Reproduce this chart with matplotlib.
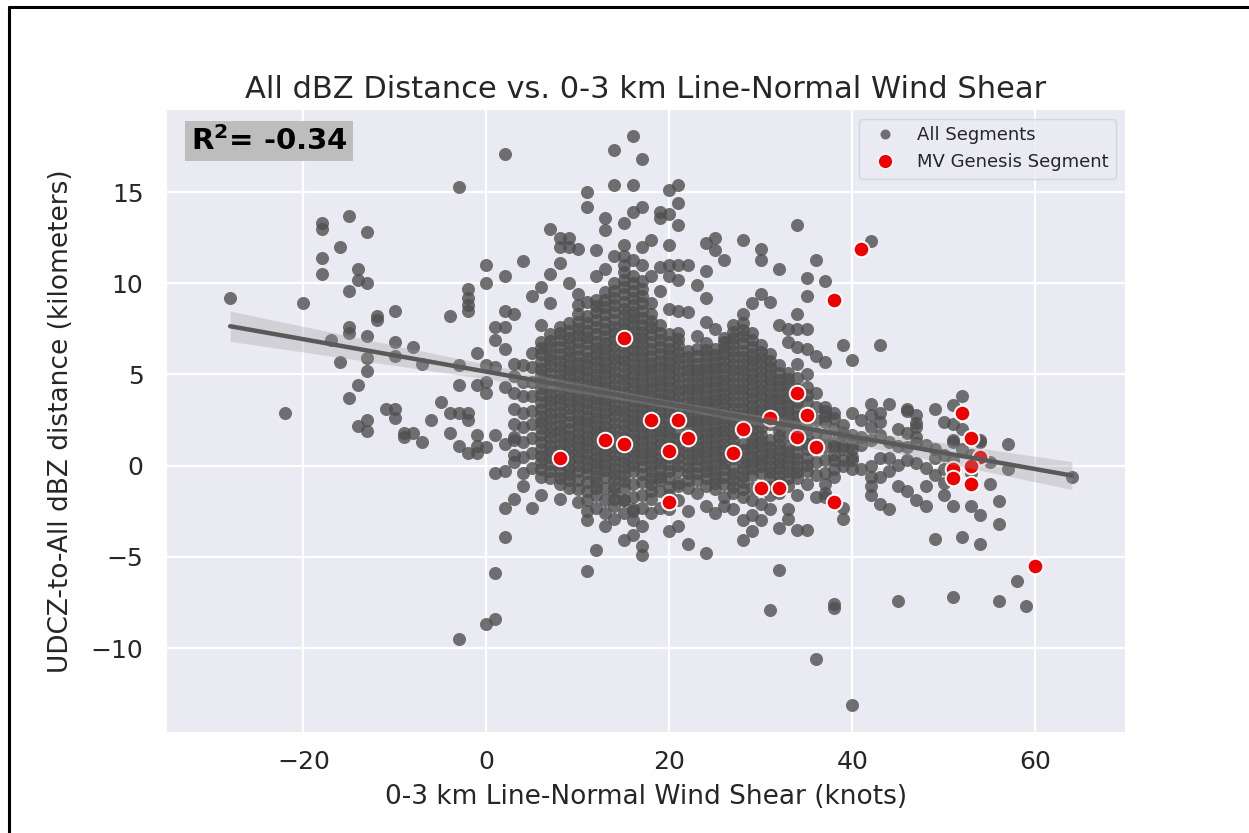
import numpy as np
import matplotlib
matplotlib.use("Agg")
import matplotlib.pyplot as plt
import seaborn as sns
from matplotlib.lines import Line2D

# ---------------- data ----------------
left_pts = [(-28, 9.2), (-22, 2.9), (-20, 8.9), (-18, 13.3), (-18, 13.0), (-18, 11.4), (-18, 10.5),
            (-17, 6.9), (-16, 12.0), (-16, 5.7), (-15, 13.7), (-15, 9.6), (-15, 7.6), (-15, 7.3),
            (-15, 3.7), (-14, 10.8), (-14, 10.2), (-14, 4.4), (-14, 2.2), (-13, 12.8), (-13, 10.0),
            (-13, 7.1), (-13, 5.9), (-13, 5.2), (-13, 2.5), (-13, 1.9), (-12, 8.2), (-12, 8.0),
            (-11, 3.1), (-10, 8.5), (-10, 6.8), (-10, 6.0), (-10, 3.1), (-10, 2.6), (-9, 1.8),
            (-9, 1.6), (-8, 6.5), (-8, 1.8), (-7, 5.6), (-7, 1.3), (-6, 2.5), (-5, 3.5), (-4, 8.2),
            (-4, 1.8), (-4, 2.9), (-3, 15.3), (-3, 5.5), (-3, 4.4), (-3, 2.9), (-3, 1.1), (-3, -9.5),
            (-2, 9.7), (-2, 9.2), (-2, 8.8), (-2, 8.5), (-2, 2.9), (-2, 2.5), (-2, 0.7), (-1, 6.2),
            (-1, 4.4), (-1, 1.7), (-1, 1.1), (-1, 0.7), (0, 11.0), (0, 10.0), (0, 5.5), (0, 4.6),
            (0, 4.0), (0, 1.0), (0, -8.7), (1, -8.4), (1, 7.6), (1, 6.9), (1, 5.4), (1, 1.7),
            (1, -0.4), (1, -5.9), (2, 17.1), (2, 10.4), (2, 8.5), (2, 7.6), (2, 6.4), (2, 4.3),
            (2, 1.2), (2, -0.3), (2, -2.3), (2, -3.9), (3, 8.3), (3, 5.6), (3, 1.6), (3, 0.2),
            (3, -1.8)]

upper_pts = [(4, 11.2), (5, 9.3), (6, 9.8), (7, 8.9), (6, 7.7), (7, 10.5), (8, 11.1), (7, 13.0),
             (8, 12.5), (9, 12.5), (8, 12.0), (9, 12.0), (10, 11.9), (11, 15.0), (11, 14.2),
             (12, 11.8), (13, 13.6), (13, 12.9), (14, 17.3), (14, 15.4), (14, 11.5), (15, 13.3),
             (15, 12.1), (16, 18.1), (16, 15.4), (16, 13.9), (16, 11.3), (17, 16.8), (17, 14.2),
             (17, 12.0), (18, 12.4), (18, 8.9), (19, 13.9), (19, 13.6), (19, 10.9), (19, 9.6),
             (20, 15.1), (20, 13.8), (20, 12.1), (20, 11.0), (20, 10.4), (20, 8.6), (21, 15.4),
             (21, 14.4), (21, 13.2), (21, 11.0), (21, 10.2), (21, 8.5), (22, 11.0), (22, 8.4),
             (23, 9.9), (23, 7.1), (24, 12.2), (24, 10.7), (24, 9.2), (24, 7.9), (25, 12.5),
             (25, 11.8), (25, 7.5), (26, 11.3), (26, 7.0), (28, 12.4), (28, 8.3), (29, 8.9),
             (30, 11.9), (30, 11.3), (30, 9.4), (31, 9.0), (32, 10.8), (32, 7.7), (33, 7.5),
             (33, 6.8), (34, 13.2), (34, 8.3), (34, 7.5), (34, 6.5), (35, 10.3), (35, 9.3),
             (35, 7.5), (35, 6.4), (36, 11.3), (36, 6.0), (37, 10.1), (37, 5.7), (39, 6.6),
             (40, 5.8), (42, 12.3), (43, 6.6), (9, 10.0), (10, 9.4), (12, 10.4), (13, 10.8),
             (15, 11.5), (18, 10.4), (17, 11.0), (10, 8.8), (11, 9.0)]

lower_pts = [(5, -2.3), (4, -1.1), (9, -1.2), (11, -1.9), (11, -2.5), (11, -3.0), (12, -2.3),
             (13, -3.3), (12, -4.6), (11, -5.8), (15, -1.9), (15, -4.1), (16, -2.5), (17, -1.6),
             (17, -2.3), (17, -3.3), (17, -4.4), (17, -4.9), (19, -0.6), (21, -0.95), (19, -2.3),
             (22, -2.5), (23, -1.5), (21, -3.3), (20, -3.6), (22, -4.3), (24, -4.8), (26, -1.7),
             (26, -2.2), (28, -3.0), (29, -3.6), (28, -4.1), (30, -3.0), (31, -2.4), (33, -2.4),
             (33, -2.9), (32, -3.4), (34, -3.5), (35, -3.5), (32, -1.5), (35, -1.0), (37, -1.0),
             (37, -1.7), (39, -2.3), (39, -2.9), (31, -7.9), (32, -5.7), (36, -10.6), (40, -13.1),
             (38, -7.6), (38, -7.8), (14, -2.9), (18, -2.6), (16, -3.8), (13, -2.6), (10, -2.0),
             (8, -1.8), (6, -1.6), (25, -2.6), (27, -2.4), (29, -2.7), (24, -2.2), (20, -2.4),
             (36, -1.7), (34, -1.6)]

right_pts = [(38, 2.9), (37, 3.2), (37, 2.7), (39, 2.25), (39, 1.7), (40, 2.9), (40, 1.7), (41, 2.5),
             (41, 1.6), (42, 3.4), (42, 2.8), (42, 2.1), (42, 1.4), (43, 2.9), (43, 2.4), (43, 1.7),
             (44, 3.4), (44, 1.3), (45, 2.0), (45, 1.1), (46, 3.0), (46, 1.8), (46, 1.0), (46, 3.1),
             (47, 2.8), (47, 2.35), (47, 2.1), (47, 1.6), (47, 1.25), (48, 1.15), (49, 3.1),
             (49, 0.9), (50, 2.4), (51, 3.35), (51, 2.3), (51, 1.4), (52, 3.8), (52, 2.0), (54, 1.4),
             (57, 1.2), (64, -0.6), (38, 1.06), (39, 0.9), (40, 0.9), (41, 1.15), (38, 0.33),
             (39, 0.0), (40, 0.33), (40, -0.2), (41, -0.2), (42, 0.0), (43, 0.4), (44, 0.4),
             (45, 0.06), (46, 0.33), (47, 0.15), (48, -0.13), (49, 0.4), (50, -0.2), (38, -0.6),
             (37, -1.5), (42, -0.6), (42, -1.1), (42, -1.6), (43, -0.6), (43, -2.1), (44, -2.4),
             (46, -1.4), (47, -1.9), (48, -2.2), (48, -1.1), (50, -0.95), (50, -1.6), (51, -2.2),
             (53, -2.2), (54, -2.7), (56, -1.95), (56, -3.2), (49, -4.0), (52, -3.9), (54, -4.3),
             (58, -6.3), (56, -7.4), (59, -7.7), (51, -7.2), (45, -7.4), (51, 1.3), (54, 1.3),
             (53, 0.6), (55, 0.2), (52, 0.9), (50, 0.6), (49, -0.5), (51, 0.3), (57, -0.2),
             (45, -1.1), (44, -0.3), (53, -0.4), (55, -1.0)]

# dense core: lists of read y-values per integer shear column
core_cols = [3, 4, 5, 6, 7, 8, 9, 10, 11, 12, 13, 14, 15, 16, 17, 18, 19, 20, 21, 22,
             23, 24, 25, 26, 27, 28, 29, 30, 31, 32, 33, 34, 35, 36, 37, 38, 39, 40]
core_vals = [
    [0.6, 1.4, 2.3, 3.1, 4.0, 4.9],
    [-0.4, 0.5, 1.3, 2.1, 2.9, 3.8, 4.6, 5.5],
    [-0.1, 0.7, 1.5, 2.3, 3.0, 3.8, 4.6, 5.4, 6.2],
    [-0.6, 0.2, 0.9, 1.7, 2.4, 3.1, 3.9, 4.6, 5.3, 6.1, 6.8],
    [-0.7, 0.1, 0.8, 1.5, 2.2, 2.9, 3.6, 4.3, 5.1, 5.8, 6.5, 7.2],
    [-1.0, -0.3, 0.5, 1.2, 1.9, 2.6, 3.3, 4.0, 4.7, 5.4, 6.1, 6.9, 7.6],
    [-0.8, -0.1, 0.6, 1.3, 2.0, 2.8, 3.5, 4.2, 4.9, 5.6, 6.3, 7.0, 7.8],
    [-1.3, -0.3, 0.4, 1.1, 1.8, 2.5, 3.2, 3.9, 4.6, 5.3, 6.0, 6.8, 7.5, 8.3],
    [-1.4, -0.4, 0.3, 1.0, 1.7, 2.4, 3.1, 3.8, 4.5, 5.2, 5.9, 6.7, 7.4, 8.2],
    [-1.6, -0.9, -0.2, 0.5, 1.2, 1.9, 2.6, 3.3, 4.0, 4.7, 5.4, 6.1, 6.8, 7.6, 8.4, 9.1],
    [-1.9, -0.6, 0.1, 0.8, 1.5, 2.2, 2.9, 3.6, 4.3, 5.0, 5.7, 6.4, 7.1, 7.9, 8.7, 9.5],
    [-2.2, -1.5, -0.8, -0.1, 0.6, 1.3, 2.0, 2.7, 3.4, 4.1, 4.8, 5.5, 6.2, 6.9, 7.6, 8.4, 9.2, 10.0],
    [-2.6, -1.2, -0.5, 0.2, 0.9, 1.6, 2.3, 3.0, 3.7, 4.4, 5.1, 5.8, 6.5, 7.2, 7.9, 8.6, 9.4, 10.2, 11.0],
    [-3.0, -1.7, -0.3, 0.4, 1.1, 1.8, 2.5, 3.2, 3.9, 4.6, 5.3, 6.0, 6.7, 7.4, 8.1, 8.8, 9.6, 10.4],
    [-0.9, 0.0, 0.7, 1.4, 2.1, 2.8, 3.5, 4.2, 4.9, 5.6, 6.3, 7.0, 7.7, 8.5, 9.3, 10.1],
    [-1.8, -1.0, -0.3, 0.4, 1.1, 1.8, 2.5, 3.2, 3.9, 4.6, 5.3, 6.0, 6.8, 7.6, 8.3],
    [-1.4, -0.2, 0.5, 1.2, 1.9, 2.6, 3.3, 4.0, 4.7, 5.4, 6.1, 6.9, 7.7],
    [-1.6, -0.7, 0.1, 1.5, 2.2, 2.9, 3.6, 4.3, 5.0, 5.7, 6.4, 7.2],
    [-1.9, -0.3, 0.4, 1.1, 1.8, 3.1, 3.8, 4.5, 5.2, 5.9, 6.6, 7.3],
    [-1.2, -0.4, 0.3, 1.0, 2.1, 2.8, 3.5, 4.2, 4.9, 5.6, 6.3],
    [-0.8, 0.0, 0.7, 1.4, 2.1, 2.8, 3.5, 4.2, 4.9, 5.6, 6.4],
    [-1.1, -0.3, 0.4, 1.1, 1.8, 2.5, 3.2, 3.9, 4.6, 5.3, 6.0, 6.7],
    [-1.3, -0.6, 0.1, 0.8, 1.5, 2.2, 2.9, 3.6, 4.3, 5.0, 5.7, 6.4],
    [-1.0, -0.2, 0.5, 1.2, 1.9, 2.6, 3.3, 4.0, 4.7, 5.4, 6.1, 6.8],
    [-1.5, -0.8, -0.1, 1.4, 2.1, 2.8, 3.5, 4.2, 4.9, 5.6, 6.3, 7.0, 7.7],
    [-1.7, -0.9, -0.2, 0.5, 1.2, 2.8, 3.5, 4.2, 4.9, 5.6, 6.3, 7.1, 7.8],
    [-1.9, -0.5, 0.2, 0.9, 1.6, 2.3, 3.0, 3.7, 4.4, 5.1, 5.8, 6.5, 7.3],
    [-2.1, -0.4, 0.3, 1.0, 1.7, 2.4, 3.1, 3.8, 4.5, 5.2, 5.9, 6.6],
    [-1.6, -0.7, 0.0, 0.7, 1.4, 3.3, 4.0, 4.7, 5.4, 6.1],
    [-0.9, -0.2, 0.5, 1.2, 1.9, 2.6, 3.3, 4.0, 4.7, 5.5],
    [-1.1, -0.3, 0.4, 1.1, 2.3, 3.0, 3.7, 4.4, 5.1],
    [-0.7, 0.0, 0.7, 2.4, 3.1, 4.8, 5.6],
    [-0.3, 0.4, 1.6, 2.0, 3.5, 4.3, 5.0],
    [-0.5, 0.2, 1.8, 2.5, 3.2, 4.0],
    [-0.4, 0.3, 1.0, 1.7, 2.4, 3.0],
    [-0.2, 0.6, 1.3, 2.0, 2.6],
    [0.3, 1.1, 1.8],
    [0.5, 1.2],
]

# second pass of read values in the densest columns (points lying between the first pass)
core_cols_b = [6, 7, 8, 9, 10, 11, 12, 13, 14, 15, 16, 17, 18, 19, 20, 21, 22, 23, 24, 25,
               26, 27, 28, 29, 30, 31, 32, 33, 34, 35]
core_vals_b = [
    [-0.2, 0.55, 1.3, 2.05, 2.75, 3.5, 4.25, 4.95, 5.7, 6.45],
    [-0.3, 0.45, 1.15, 1.85, 2.55, 3.25, 3.95, 4.7, 5.45, 6.15, 6.85],
    [-0.65, 0.1, 0.85, 1.55, 2.25, 2.95, 3.65, 4.35, 5.05, 5.75, 6.5, 7.25],
    [-0.45, 0.25, 0.95, 1.65, 2.4, 3.15, 3.85, 4.55, 5.25, 5.95, 6.65, 7.4],
    [-0.8, 0.05, 0.75, 1.45, 2.15, 2.85, 3.55, 4.25, 4.95, 5.65, 6.4, 7.15, 7.9],
    [-0.9, -0.05, 0.65, 1.35, 2.05, 2.75, 3.45, 4.15, 4.85, 5.55, 6.3, 7.05, 7.8],
    [-1.25, -0.55, 0.15, 0.85, 1.55, 2.25, 2.95, 3.65, 4.35, 5.05, 5.75, 6.45, 7.2, 8.0, 8.75],
    [-1.25, -0.25, 0.45, 1.15, 1.85, 2.55, 3.25, 3.95, 4.65, 5.35, 6.05, 6.75, 7.5, 8.3, 9.1],
    [-1.85, -1.15, -0.45, 0.25, 0.95, 1.65, 2.35, 3.05, 3.75, 4.45, 5.15, 5.85, 6.55, 7.25, 8.0, 8.8, 9.6],
    [-1.9, -0.85, -0.15, 0.55, 1.25, 1.95, 2.65, 3.35, 4.05, 4.75, 5.45, 6.15, 6.85, 7.55, 8.25, 9.0, 9.8, 10.6],
    [-2.35, -1.0, 0.05, 0.75, 1.45, 2.15, 2.85, 3.55, 4.25, 4.95, 5.65, 6.35, 7.05, 7.75, 8.45, 9.2, 10.0],
    [-0.45, 0.35, 1.05, 1.75, 2.45, 3.15, 3.85, 4.55, 5.25, 5.95, 6.65, 7.35, 8.1, 8.9, 9.7],
    [-1.4, -0.65, 0.05, 0.75, 1.45, 2.15, 2.85, 3.55, 4.25, 4.95, 5.65, 6.4, 7.2, 7.95],
    [-0.8, 0.15, 0.85, 1.55, 2.25, 2.95, 3.65, 4.35, 5.05, 5.75, 6.5, 7.3],
    [-1.15, -0.3, 0.5, 1.15, 1.85, 2.55, 3.25, 3.95, 4.65, 5.35, 6.05, 6.8],
    [-1.1, 0.05, 0.75, 1.45, 2.4, 2.7, 3.45, 4.15, 4.85, 5.55, 6.25, 6.95],
    [-0.8, -0.05, 0.65, 1.55, 1.6, 2.45, 3.15, 3.85, 4.55, 5.25, 5.95],
    [-0.4, 0.35, 1.05, 1.75, 2.45, 3.15, 3.85, 4.55, 5.25, 6.0],
    [-0.7, 0.05, 0.75, 1.45, 2.15, 2.85, 3.55, 4.25, 4.95, 5.65, 6.35],
    [-0.95, -0.25, 0.45, 1.15, 1.85, 2.55, 3.25, 3.95, 4.65, 5.35, 6.05],
    [-0.6, 0.15, 0.85, 1.55, 2.25, 2.95, 3.65, 4.35, 5.05, 5.75, 6.45],
    [-1.15, -0.45, 0.4, 1.05, 1.75, 2.45, 3.15, 3.85, 4.55, 5.25, 5.95, 6.65, 7.35],
    [-1.3, -0.55, 0.15, 0.85, 2.0, 2.45, 3.15, 3.85, 4.55, 5.25, 5.95, 6.7, 7.45],
    [-1.2, -0.15, 0.55, 1.25, 1.95, 2.65, 3.35, 4.05, 4.75, 5.45, 6.15, 6.9],
    [-1.25, 0.0, 0.65, 1.35, 2.05, 2.75, 3.45, 4.15, 4.85, 5.55, 6.25],
    [-1.15, -0.35, 0.35, 1.05, 2.3, 3.0, 3.65, 4.35, 5.05, 5.75],
    [-0.55, 0.15, 0.85, 1.55, 2.25, 2.95, 3.65, 4.35, 5.1],
    [-0.7, 0.05, 0.75, 1.7, 2.65, 3.35, 4.05, 4.75],
    [-0.35, 0.35, 1.2, 2.0, 2.75, 3.5, 4.2],
    [0.05, 0.9, 1.2, 2.75, 3.9],
]

mv_x = [8, 13, 15, 15, 18, 21, 22, 20, 20, 27, 28, 31, 30, 32, 34, 34, 35, 36, 38, 41,
        38, 52, 53, 54, 51, 51, 53, 53, 60]
mv_y = [0.4, 1.4, 1.2, 7.0, 2.5, 2.5, 1.5, 0.8, -2.0, 0.7, 2.0, 2.6, -1.2, -1.2, 4.0, 1.6,
        2.8, 1.0, 9.1, 11.9, -2.0, 2.9, 1.5, 0.5, -0.2, -0.7, 0.0, -1.0, -5.5]

title = "All dBZ Distance vs. 0-3 km Line-Normal Wind Shear"
xlabel = "0-3 km Line-Normal Wind Shear (knots)"
ylabel = "UDCZ-to-All dBZ distance (kilometers)"
r_value = "-0.34"
legend_labels = ["All Segments", "MV Genesis Segment"]
xticks = [-20, 0, 20, 40, 60]
yticks = [-10, -5, 0, 5, 10, 15]

# ---------------- build arrays ----------------
gx, gy = [], []
for pts in (left_pts, upper_pts, lower_pts, right_pts):
    for a, b in pts:
        gx.append(a)
        gy.append(b)
for cols, valsets in ((core_cols, core_vals), (core_cols_b, core_vals_b)):
    for c, vals in zip(cols, valsets):
        gx += [c] * len(vals)
        gy += vals
gx = np.array(gx, float)
gy = np.array(gy, float)

# ---------------- style ----------------
sns.set_theme(style="darkgrid")
plt.rcParams["font.family"] = ["DejaVu Sans"]
plt.rcParams["mathtext.fontset"] = "dejavusans"
text_col = "#262626"

W, H = 1249, 833
fig = plt.figure(figsize=(W / 100, H / 100), dpi=100)
fig.patch.set_facecolor("white")
ax = fig.add_axes([167 / W, 1 - 732 / H, (1125 - 167) / W, (732 - 110) / H])
ax.set_facecolor("#EAEAF2")
ax.grid(True, color="white", linewidth=1.6)
ax.set_axisbelow(True)
for sp in ax.spines.values():
    sp.set_visible(False)

ax.scatter(gx, gy, s=88, color="#4f4f4f", alpha=0.8, linewidths=0, zorder=2)
ax.scatter(mv_x, mv_y, s=125, color="#ee0000", edgecolors="white", linewidths=1.4, zorder=3)

# regression line with 95% confidence band
slope, icpt = np.polyfit(gx, gy, 1)
xs = np.linspace(gx.min(), gx.max(), 200)
yhat = icpt + slope * xs
n = len(gx)
resid = gy - (icpt + slope * gx)
s_err = np.sqrt(np.sum(resid ** 2) / (n - 2))
sxx = np.sum((gx - gx.mean()) ** 2)
se = s_err * np.sqrt(1.0 / n + (xs - gx.mean()) ** 2 / sxx)
ax.fill_between(xs, yhat - 1.96 * se, yhat + 1.96 * se, color="#9a9a9a", alpha=0.3,
                linewidth=0, zorder=4)
ax.plot(xs, yhat, color="#595959", linewidth=3.2, solid_capstyle="round", zorder=5)

ax.set_xlim(-34.9, 69.8)
ax.set_ylim(-14.6, 19.5)
ax.set_xticks(xticks)
ax.set_yticks(yticks)
ax.tick_params(axis="x", labelsize=18, pad=13, length=0, colors=text_col)
ax.tick_params(axis="y", labelsize=18, pad=17, length=0, colors=text_col)

ax.set_title(title, fontsize=22, pad=9, color=text_col)
ax.set_xlabel(xlabel, fontsize=19, labelpad=7, color=text_col)
ax.set_ylabel(ylabel, fontsize=19, labelpad=12, color=text_col)

handles = [
    Line2D([], [], linestyle="none", marker="o", markersize=7.2, markerfacecolor="#6e6e6e",
           markeredgewidth=0),
    Line2D([], [], linestyle="none", marker="o", markersize=10.5, markerfacecolor="#ee0000",
           markeredgecolor="white", markeredgewidth=1.0),
]
leg = ax.legend(handles, legend_labels, loc="upper right", fontsize=13, frameon=True,
                facecolor="#EAEAF2", edgecolor="#cfcfd6", framealpha=0.8)
for t in leg.get_texts():
    t.set_color(text_col)

# R^2 annotation box
fig.text(191 / W, 1 - 141 / H, r"$\mathbf{R^2}$= " + r_value, fontsize=21, fontweight="bold",
         color="black", va="center", ha="left",
         bbox=dict(facecolor="#bdbdbd", edgecolor="none", pad=4))

# black frame lines (left and top) of the picture
fig.add_artist(Line2D([8.5 / W, 8.5 / W], [0, 1 - 6.5 / H], color="black", linewidth=2.2,
                      transform=fig.transFigure))
fig.add_artist(Line2D([8.5 / W, 1], [1 - 6.5 / H, 1 - 6.5 / H], color="black", linewidth=2.2,
                      transform=fig.transFigure))

fig.savefig("out.png", dpi=100)
